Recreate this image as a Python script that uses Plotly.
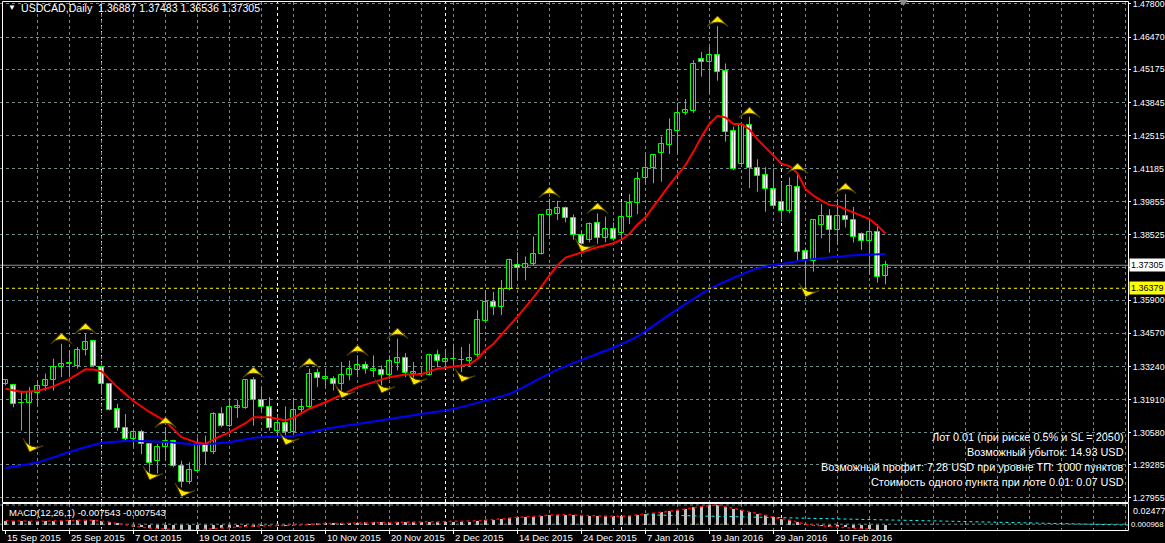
import plotly.graph_objects as go

W, H = 1165, 543
PR = 1128                       # right edge of the plotting area (px)
MB = 530                        # bottom of MACD window (px)
def px(x): return x / PR        # paper x spans the plotting area (0..PR)
def py(y): return 1 - y / H

# ---------------- data ----------------
O = [1.3252, 1.3250, 1.3176, 1.3176, 1.3217, 1.3244, 1.3270, 1.3321, 1.3335, 1.3324,
     1.3389, 1.3425, 1.3321, 1.3254, 1.3154, 1.3077, 1.3033, 1.3060, 1.3013, 1.2945,
     1.2999, 1.3026, 1.2925, 1.2858, 1.2905, 1.3013, 1.2979, 1.3133, 1.3086, 1.3156,
     1.3156, 1.3268, 1.3190, 1.3163, 1.3064, 1.3097, 1.3060, 1.3150, 1.3160, 1.3299,
     1.3274, 1.3274, 1.3254, 1.3291, 1.3311, 1.3331, 1.3307, 1.3308, 1.3291, 1.3338,
     1.3359, 1.3293, 1.3295, 1.3291, 1.3368, 1.3342, 1.3352, 1.3348, 1.3346, 1.3368,
     1.3507, 1.3581, 1.3563, 1.3634, 1.3733, 1.3721, 1.3734, 1.3777, 1.3932, 1.3936,
     1.3960, 1.3920, 1.3854, 1.3833, 1.3900, 1.3841, 1.3877, 1.3859, 1.3926, 1.3980,
     1.4080, 1.4120, 1.4183, 1.4213, 1.4271, 1.4343, 1.4351, 1.4561, 1.4548, 1.4574,
     1.4510, 1.4270, 1.4137, 1.4294, 1.4120, 1.4093, 1.4036, 1.3986, 1.3950, 1.4046,
     1.3788, 1.3748, 1.3892, 1.3929, 1.3871, 1.3929, 1.3912, 1.3855, 1.3826, 1.3865,
     1.36887]
Hh = [1.3272, 1.3254, 1.3227, 1.3241, 1.3268, 1.3295, 1.3355, 1.3415, 1.3389, 1.3402,
      1.3456, 1.3429, 1.3328, 1.3257, 1.3174, 1.3133, 1.3069, 1.3069, 1.3015, 1.3013,
      1.3080, 1.3029, 1.2945, 1.2939, 1.3039, 1.3046, 1.3140, 1.3160, 1.3198, 1.3190,
      1.3274, 1.3281, 1.3241, 1.3201, 1.3133, 1.3163, 1.3198, 1.3194, 1.3315, 1.3315,
      1.3315, 1.3284, 1.3342, 1.3348, 1.3368, 1.3344, 1.3368, 1.3328, 1.3368, 1.3436,
      1.3378, 1.3342, 1.3321, 1.3375, 1.3391, 1.3395, 1.3415, 1.3402, 1.3415, 1.3550,
      1.3630, 1.3624, 1.3671, 1.3757, 1.3783, 1.3766, 1.3846, 1.3936, 1.3998, 1.3989,
      1.3966, 1.3934, 1.3867, 1.3903, 1.3939, 1.3926, 1.3903, 1.3983, 1.4016, 1.4105,
      1.4173, 1.4177, 1.4247, 1.4320, 1.4383, 1.4398, 1.4554, 1.4588, 1.4608, 1.4691,
      1.4541, 1.4287, 1.4298, 1.4327, 1.4156, 1.4124, 1.4120, 1.4066, 1.4084, 1.4104,
      1.3802, 1.3916, 1.3976, 1.3956, 1.3996, 1.4016, 1.3965, 1.3862, 1.3916, 1.3896,
      1.37483]
L = [1.3248, 1.3160, 1.3066, 1.3006, 1.3163, 1.3227, 1.3227, 1.3281, 1.3281, 1.3315,
     1.3368, 1.3321, 1.3214, 1.3147, 1.3066, 1.3026, 1.2999, 1.2972, 1.2894, 1.2894,
     1.2945, 1.2919, 1.2838, 1.2851, 1.2905, 1.2932, 1.2972, 1.3080, 1.3080, 1.3117,
     1.3154, 1.3086, 1.3147, 1.3066, 1.3046, 1.3046, 1.3053, 1.3136, 1.3154, 1.3241,
     1.3234, 1.3227, 1.3221, 1.3268, 1.3281, 1.3295, 1.3281, 1.3248, 1.3274, 1.3308,
     1.3281, 1.3268, 1.3285, 1.3288, 1.3321, 1.3321, 1.3324, 1.3301, 1.3324, 1.3362,
     1.3507, 1.3530, 1.3530, 1.3630, 1.3670, 1.3670, 1.3730, 1.3774, 1.3850, 1.3912,
     1.3903, 1.3833, 1.3806, 1.3823, 1.3817, 1.3823, 1.3830, 1.3833, 1.3896, 1.3936,
     1.4053, 1.4060, 1.4066, 1.4177, 1.4180, 1.4334, 1.4343, 1.4488, 1.4421, 1.4472,
     1.4227, 1.4113, 1.4127, 1.4040, 1.4026, 1.3946, 1.3963, 1.3906, 1.3939, 1.3748,
     1.3627, 1.3705, 1.3839, 1.3781, 1.3812, 1.3882, 1.3822, 1.3792, 1.3694, 1.3661,
     1.36536]
C = [1.3268, 1.3174, 1.3178, 1.3221, 1.3246, 1.3270, 1.3321, 1.3335, 1.3338, 1.3391,
     1.3422, 1.3324, 1.3254, 1.3150, 1.3077, 1.3033, 1.3060, 1.3013, 1.2935, 1.2999,
     1.3026, 1.2925, 1.2858, 1.2908, 1.3013, 1.2979, 1.3133, 1.3086, 1.3163, 1.3167,
     1.3268, 1.3190, 1.3160, 1.3077, 1.3097, 1.3060, 1.3151, 1.3163, 1.3295, 1.3278,
     1.3281, 1.3254, 1.3291, 1.3315, 1.3331, 1.3313, 1.3315, 1.3291, 1.3344, 1.3359,
     1.3297, 1.3300, 1.3294, 1.3368, 1.3344, 1.3355, 1.3353, 1.3349, 1.3359, 1.3509,
     1.3583, 1.3563, 1.3634, 1.3753, 1.3721, 1.3737, 1.3777, 1.3932, 1.3952, 1.3960,
     1.3920, 1.3854, 1.3814, 1.3896, 1.3841, 1.3877, 1.3837, 1.3926, 1.3980, 1.4076,
     1.4120, 1.4173, 1.4217, 1.4274, 1.4344, 1.4354, 1.4537, 1.4548, 1.4574, 1.4508,
     1.4267, 1.4116, 1.4294, 1.4120, 1.4091, 1.4036, 1.3970, 1.3950, 1.4049, 1.3785,
     1.3751, 1.3913, 1.3929, 1.3871, 1.3929, 1.3912, 1.3845, 1.3826, 1.3865, 1.3685,
     1.37305]

red_idx = [0, 2, 4, 6, 8, 10, 11, 12, 14, 16, 18, 20, 22, 24, 25, 26, 28, 30, 31, 33, 35, 36,
           38, 40, 42, 44, 46, 48, 50, 52, 54, 56, 58, 59, 60, 61, 62, 64, 66, 68, 69, 70, 72,
           74, 76, 77, 78, 79, 80, 81, 83, 85, 86, 87, 88, 89, 90, 91, 92, 93, 94, 95, 96, 97,
           98, 99, 100, 101, 102, 103, 104, 105, 106, 107, 108, 109, 110]
red_val = [1.3234, 1.3221, 1.3225, 1.3244, 1.3273, 1.3313, 1.3312, 1.3305, 1.3240, 1.3185,
           1.3141, 1.3104, 1.3040, 1.3017, 1.3013, 1.3031, 1.3060, 1.3096, 1.3120, 1.3120,
           1.3107, 1.3118, 1.3154, 1.3180, 1.3210, 1.3241, 1.3261, 1.3281, 1.3292, 1.3293,
           1.3315, 1.3324, 1.3332, 1.3355, 1.3390, 1.3415, 1.3453, 1.3524, 1.3601, 1.3690,
           1.3730, 1.3761, 1.3783, 1.3803, 1.3819, 1.3833, 1.3857, 1.3894, 1.3923, 1.3968,
           1.4053, 1.4133, 1.4187, 1.4247, 1.4298, 1.4331, 1.4324, 1.4298, 1.4298, 1.4276,
           1.4236, 1.4204, 1.4169, 1.4138, 1.4129, 1.4100, 1.4037, 1.4010, 1.3990, 1.3973,
           1.3969, 1.3956, 1.3943, 1.3929, 1.3916, 1.3889, 1.3858]

blue_idx = [0, 4, 8, 12, 16, 20, 24, 28, 31, 34, 36, 40, 44, 48, 52, 56, 60, 63, 66, 69, 72,
            76, 79, 82, 85, 88, 91, 94, 97, 100, 103, 106, 110]
blue_val = [1.2916, 1.2939, 1.2980, 1.3016, 1.3024, 1.3020, 1.3011, 1.3020, 1.3037, 1.3042,
            1.3045, 1.3073, 1.3093, 1.3113, 1.3133, 1.3153, 1.3187, 1.3214, 1.3262, 1.3311,
            1.3350, 1.3400, 1.3445, 1.3510, 1.3575, 1.3635, 1.3680, 1.3718, 1.3736, 1.3752,
            1.3762, 1.3771, 1.3776]

fu_idx = [7, 10, 20, 31, 38, 44, 49, 68, 74, 89, 93, 99, 105]
fu_val = [1.3458, 1.3498, 1.3121, 1.3322, 1.3358, 1.3410, 1.3478, 1.4045, 1.3981, 1.4732,
          1.4366, 1.4141, 1.4061]
fd_idx = [3, 18, 22, 35, 42, 47, 51, 57, 72, 100]
fd_val = [1.2980, 1.2868, 1.2800, 1.3008, 1.3197, 1.3217, 1.3249, 1.3261, 1.3784, 1.3603]

macd = [0.0052, 0.0049, 0.0046, 0.0045, 0.0046, 0.0048, 0.0052, 0.0055, 0.0057, 0.0059,
        0.0060, 0.0057, 0.0050, 0.0036, 0.0018, 0.0000, -0.0015, -0.0027, -0.0040, -0.0045,
        -0.0050, -0.0057, -0.0065, -0.0066, -0.0060, -0.0057, -0.0045, -0.0040, -0.0032, -0.0027,
        -0.0018, -0.0014, -0.0012, -0.0012, -0.0010, -0.0010, -0.0003, 0.0000, 0.0010, 0.0014,
        0.0018, 0.0020, 0.0023, 0.0027, 0.0030, 0.0032, 0.0034, 0.0034, 0.0036, 0.0038,
        0.0037, 0.0037, 0.0037, 0.0040, 0.0040, 0.0041, 0.0041, 0.0041, 0.0042, 0.0052,
        0.0062, 0.0067, 0.0075, 0.0088, 0.0093, 0.0097, 0.0102, 0.0114, 0.0122, 0.0128,
        0.0128, 0.0124, 0.0118, 0.0117, 0.0112, 0.0111, 0.0106, 0.0108, 0.0115, 0.0128,
        0.0138, 0.0148, 0.0158, 0.0170, 0.0185, 0.0195, 0.0218, 0.0232, 0.0243, 0.02477,
        0.0228, 0.0202, 0.0190, 0.0165, 0.0142, 0.0120, 0.0095, 0.0072, 0.0062, 0.0032,
        0.0008, -0.0002, -0.0008, -0.0020, -0.0025, -0.0030, -0.0040, -0.0048, -0.0050, -0.0068,
        -0.007543]
cyan_idx = [80, 140.3]
cyan_val = [0.0126, 0.0000]

price_ticks = [1.47800, 1.46470, 1.45175, 1.43845, 1.42515, 1.41185, 1.39855, 1.38525,
               1.37210, 1.35900, 1.34570, 1.33240, 1.31910, 1.30580, 1.29285, 1.27955]
price_text = ['1.47800', '1.46470', '1.45175', '1.43845', '1.42515', '1.41185', '1.39855',
              '1.38525', '', '1.35900', '1.34570', '1.33240', '1.31910', '1.30580', '1.29285',
              '1.27955']
date_idx = [0, 8, 16, 24, 32, 40, 48, 56, 64, 72, 80, 88, 96, 104]
date_text = ['15 Sep 2015', '25 Sep 2015', '7 Oct 2015', '19 Oct 2015', '29 Oct 2015',
             '10 Nov 2015', '20 Nov 2015', '2 Dec 2015', '14 Dec 2015', '24 Dec 2015',
             '7 Jan 2016', '19 Jan 2016', '29 Jan 2016', '10 Feb 2016']
sep_idx = [12, 34, 55, 77, 97]
bid_price = 1.37305
level_price = 1.36379
title_text = 'USDCAD,Daily&nbsp; 1.36887 1.37483 1.36536 1.37305'
macd_text = 'MACD(12,26,1) -0.007543 -0.007543'
info_lines = ['Лот 0.01 (при риске 0.5% и SL = 2050)',
              'Возможный убыток: 14.93 USD',
              'Возможный профит: 7.28 USD при уровне ТП: 1000 пунктов',
              'Стоимость одного пункта при лоте 0.01: 0.07 USD']

# ---------------- figure ----------------
X0 = -5.5 / 8
X1 = (PR - 5.5) / 8
Y0, Y1 = 1.27794, 1.47880
M0, M1 = -0.00620, 0.02601
FONT = 'Liberation Sans'
GRID = '#6F8C8C'
n = len(O)
idx = list(range(n))

fig = go.Figure()

wx, wy = [], []
for i in idx:
    wx += [i, i, None]
    wy += [L[i], Hh[i], None]
fig.add_trace(go.Scatter(x=wx, y=wy, mode='lines', line=dict(color='#00FF00', width=1),
                         hoverinfo='skip', xaxis='x', yaxis='y'))
base = [min(O[i], C[i]) for i in idx]
hgt = [max(abs(C[i] - O[i]), 0.00006) for i in idx]
fill = ['#000000' if C[i] >= O[i] else '#FFFFFF' for i in idx]
fig.add_trace(go.Bar(x=idx, y=hgt, base=base, width=0.62,
                     marker=dict(color=fill, line=dict(color='#00FF00', width=1)),
                     xaxis='x', yaxis='y'))
fig.add_trace(go.Scatter(x=blue_idx, y=blue_val, mode='lines', line_shape='spline',
                         line=dict(color='#0000FF', width=2, smoothing=0.6), xaxis='x', yaxis='y'))
fig.add_trace(go.Scatter(x=red_idx, y=red_val, mode='lines',
                         line=dict(color='#FF0000', width=2), xaxis='x', yaxis='y'))
fig.add_trace(go.Scatter(x=fu_idx, y=fu_val, mode='markers',
                         marker=dict(symbol='arrow-wide', size=15, color='#FFE800',
                                     line=dict(color='#4A3C00', width=1)),
                         xaxis='x', yaxis='y'))
fig.add_trace(go.Scatter(x=fd_idx, y=fd_val, mode='markers',
                         marker=dict(symbol='arrow-wide', size=15, color='#FFE800', angle=200,
                                     line=dict(color='#4A3C00', width=1)),
                         xaxis='x', yaxis='y'))
fig.add_trace(go.Bar(x=idx, y=macd, width=0.4, marker=dict(color='#C0C0C0', line=dict(width=0)),
                     xaxis='x2', yaxis='y2'))
fig.add_trace(go.Scatter(x=idx, y=macd, mode='lines',
                         line=dict(color='#FF0000', width=1.5, dash='3px,3px'),
                         xaxis='x2', yaxis='y2'))
fig.add_trace(go.Scatter(x=cyan_idx, y=cyan_val, mode='lines',
                         line=dict(color='#00FFFF', width=1, dash='3px,3px'),
                         xaxis='x2', yaxis='y2'))

shapes = []
shapes.append(dict(type='line', xref='x', yref='y', x0=X0, x1=X1, y0=bid_price, y1=bid_price,
                   line=dict(color='#8A9A9A', width=1), layer='below'))
shapes.append(dict(type='line', xref='x', yref='y', x0=X0, x1=X1, y0=level_price, y1=level_price,
                   line=dict(color='#FFFF00', width=1, dash='3px,3px'), layer='above'))
for s in sep_idx:
    shapes.append(dict(type='line', xref='x', yref='paper', x0=s, x1=s, y0=py(502), y1=py(2),
                       line=dict(color='#FFFFFF', width=1, dash='3px,3px'), layer='below'))
    shapes.append(dict(type='line', xref='x', yref='paper', x0=s, x1=s, y0=py(MB), y1=py(504),
                       line=dict(color='#FFFFFF', width=1, dash='3px,3px'), layer='below'))
for v in [0.02477, 0.000968]:
    shapes.append(dict(type='line', xref='x2', yref='y2', x0=X0, x1=X1, y0=v, y1=v,
                       line=dict(color=GRID, width=1, dash='3px,3px'), layer='below'))
for (y_top, y_bot) in [(1.5, 502.5), (503.5, MB + 0.5)]:
    shapes.append(dict(type='rect', xref='paper', yref='paper', x0=px(2.5), x1=px(PR + 0.5),
                       y0=py(y_bot), y1=py(y_top), line=dict(color='#FFFFFF', width=1),
                       fillcolor='rgba(0,0,0,0)', layer='above'))
for d in date_idx:
    shapes.append(dict(type='line', xref='x2', yref='paper', x0=d, x1=d, y0=py(534), y1=py(MB + 0.5),
                       line=dict(color='#FFFFFF', width=1)))
shapes.append(dict(type='path', xref='paper', yref='paper',
                   path='M %f %f L %f %f L %f %f Z' % (px(899), py(0), px(908), py(0), px(903.5), py(6)),
                   fillcolor='#8C8C8C', line=dict(width=0)))

ann = []
ann.append(dict(xref='paper', yref='paper', x=px(6), y=py(8), xanchor='left', yanchor='middle',
                text='▼', showarrow=False, font=dict(family=FONT, size=8, color='#FFFFFF')))
ann.append(dict(xref='paper', yref='paper', x=px(19), y=py(8), xanchor='left', yanchor='middle',
                text=title_text, showarrow=False,
                font=dict(family=FONT, size=10.6, color='#FFFFFF')))
ann.append(dict(xref='paper', yref='paper', x=px(7), y=py(512), xanchor='left', yanchor='middle',
                text=macd_text, showarrow=False, font=dict(family=FONT, size=9.5, color='#FFFFFF')))
for k, t in enumerate(info_lines):
    ann.append(dict(xref='paper', yref='paper', x=px(1126), y=py(437 + 15 * k), xanchor='right',
                    yanchor='middle', text=t, showarrow=False,
                    font=dict(family=FONT, size=10.9, color='#FFFFFF')))
for d, t in zip(date_idx, date_text):
    ann.append(dict(xref='x2', yref='paper', x=d, y=py(537), xanchor='left', yanchor='middle',
                    text=t, showarrow=False, xshift=-1,
                    font=dict(family=FONT, size=9.5, color='#FFFFFF')))
ann.append(dict(xref='paper', yref='y', x=px(PR + 1), y=bid_price, xanchor='left', yanchor='middle',
                text='1.37305', showarrow=False, bgcolor='#FFFFFF', borderpad=1, width=34, align='left',
                font=dict(family=FONT, size=9, color='#000000')))
ann.append(dict(xref='paper', yref='y', x=px(PR + 1), y=level_price, xanchor='left', yanchor='middle',
                text='1.36379', showarrow=False, bgcolor='#FFFF00', borderpad=1, width=34, align='left',
                font=dict(family=FONT, size=9, color='#000000')))
ann.append(dict(xref='paper', yref='paper', x=px(PR + 3), y=py(511), xanchor='left', yanchor='middle',
                text='0.02477', showarrow=False, font=dict(family=FONT, size=9, color='#FFFFFF')))
ann.append(dict(xref='paper', yref='paper', x=px(PR + 1), y=py(524), xanchor='left', yanchor='middle',
                text='0.000968', showarrow=False, font=dict(family=FONT, size=7.8, color='#FFFFFF')))

grid_x = list(range(4, 141, 4))
fig.update_layout(
    width=W, height=H, autosize=False,
    margin=dict(l=0, r=W - PR, t=0, b=0, pad=0, autoexpand=False),
    paper_bgcolor='#000000', plot_bgcolor='#000000',
    showlegend=False, barmode='overlay', bargap=0,
    xaxis=dict(domain=[0, 1], range=[X0, X1], showticklabels=False, ticks='', automargin=False,
               tickmode='array', tickvals=grid_x, showgrid=True, gridcolor=GRID,
               griddash='3px,3px', gridwidth=1, zeroline=False, showline=False, fixedrange=True),
    yaxis=dict(domain=[py(502), py(2)], range=[Y0, Y1], side='right', tickmode='array',
               tickvals=price_ticks, ticktext=price_text, ticks='outside', ticklen=2,
               automargin=False, ticklabeloverflow='allow', ticklabelstandoff=0,
               tickcolor='#FFFFFF', tickfont=dict(family=FONT, size=8.8, color='#FFFFFF'),
               showgrid=True, gridcolor=GRID, griddash='3px,3px', gridwidth=1,
               zeroline=False, showline=False, fixedrange=True),
    xaxis2=dict(domain=[0, 1], range=[X0, X1], anchor='y2', showticklabels=False,
                automargin=False,
                ticks='', tickmode='array', tickvals=grid_x, showgrid=True, gridcolor=GRID,
                griddash='3px,3px', zeroline=False, showline=False, fixedrange=True),
    yaxis2=dict(domain=[py(MB), py(504)], range=[M0, M1], anchor='x2', side='right',
                automargin=False,
                showticklabels=False, ticks='', showgrid=False, zeroline=False, showline=False,
                fixedrange=True),
    shapes=shapes, annotations=ann,
)

fig.write_html('out.html')
